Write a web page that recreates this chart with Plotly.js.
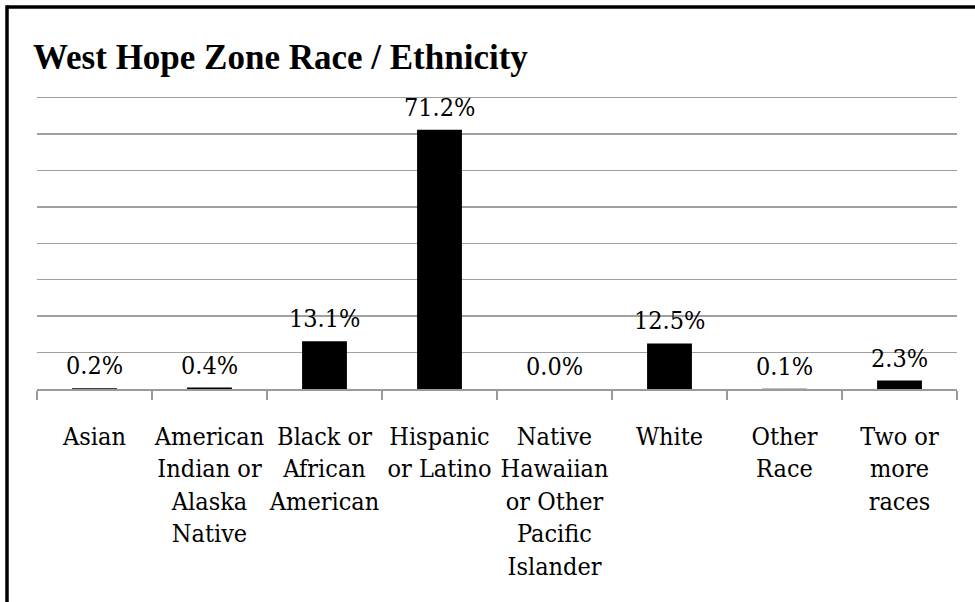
<!DOCTYPE html>
<html>
<head>
<meta charset="utf-8">
<script src="https://cdn.plot.ly/plotly-3.0.1.min.js"></script>
<style>html,body{margin:0;padding:0;background:#fff;}#chart{width:975px;height:602px;}</style>
</head>
<body>
<div id="chart"></div>
<script>
const categories = ["Asian", "American Indian or Alaska Native", "Black or African American", "Hispanic or Latino", "Native Hawaiian or Other Pacific Islander", "White", "Other Race", "Two or more races"];
const tickLabels = ["Asian", "American<br>Indian or<br>Alaska<br>Native", "Black or<br>African<br>American", "Hispanic<br>or Latino", "Native<br>Hawaiian<br>or Other<br>Pacific<br>Islander", "White", "Other<br>Race", "Two or<br>more<br>races"];
const values = [0.2, 0.4, 13.1, 71.2, 0.0, 12.5, 0.1, 2.3];
const valueLabels = ["0.2%", "0.4%", "13.1%", "71.2%", "0.0%", "12.5%", "0.1%", "2.3%"];

const serifBold = "'Liberation Serif', 'Times New Roman', serif";
const serif = "'DejaVu Serif Condensed', 'DejaVu Serif', serif";

const trace = {
  type: "bar",
  x: categories,
  y: values,
  marker: {color: "#000000", line: {width: 0}},
  hoverinfo: "none"
};

const annotations = categories.map((c, i) => ({
  x: c, y: values[i], xref: "x", yref: "y",
  text: valueLabels[i], showarrow: false,
  yanchor: "bottom", yshift: 6,
  font: {family: serif, size: 25, color: "#000"}
}));

const layout = {
  width: 975, height: 602,
  margin: {l: 37, r: 18, t: 94, b: 213},
  paper_bgcolor: "#fff", plot_bgcolor: "#fff",
  font: {family: serif, color: "#000"},
  showlegend: false,
  bargap: 0.61,
  title: {
    text: "<b>West Hope Zone Race / Ethnicity</b>",
    font: {family: serifBold, size: 35, color: "#000"},
    xref: "container", yref: "container",
    x: 33/975, xanchor: "left",
    y: 1 - 57/602, yanchor: "middle"
  },
  xaxis: {
    type: "category",
    tickmode: "array", tickvals: categories, ticktext: tickLabels,
    tickson: "boundaries",
    ticks: "outside", ticklen: 9, tickwidth: 1.5, tickcolor: "#9a9a9a",
    showline: true, linecolor: "#9a9a9a", linewidth: 1.5,
    showgrid: false, zeroline: false,
    tickangle: 0,
    ticklabelstandoff: 24,
    tickfont: {family: serif, size: 25, color: "#000"}
  },
  yaxis: {
    range: [0, 81], dtick: 10, tick0: 0,
    showticklabels: false, ticks: "",
    showgrid: true, gridcolor: "#a0a0a0", gridwidth: 1.5,
    zeroline: false, showline: false, fixedrange: true
  },
  annotations: annotations,
  shapes: [
    {type: "line", xref: "paper", yref: "paper", x0: (7-37)/920, x1: 1.1, y0: (389-7)/295, y1: (389-7)/295, line: {color: "#000", width: 3.5}},
    {type: "line", xref: "paper", yref: "paper", x0: (7-37)/920, x1: (7-37)/920, y0: (389-5.25)/295, y1: -1, line: {color: "#000", width: 3.5}}
  ]
};

Plotly.newPlot("chart", [trace], layout, {staticPlot: true, displayModeBar: false});
</script>
</body>
</html>
